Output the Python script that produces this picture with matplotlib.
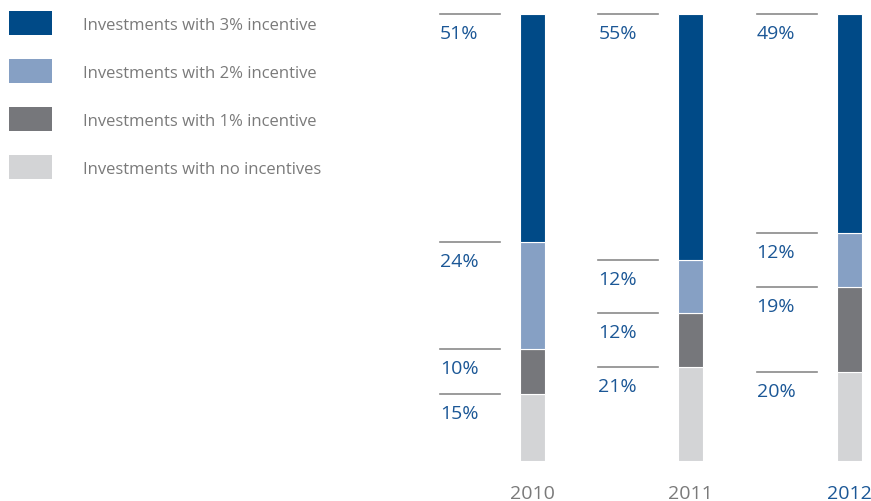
import numpy as np
import matplotlib.pyplot as plt
from matplotlib.patches import Rectangle

plt.rcParams['font.family'] = ['Open Sans', 'DejaVu Sans']

# Данные
years = ['2010', '2011', '2012']
no_incentive = [15, 21, 20]
incentive_1 = [10, 12, 19]
incentive_2 = [24, 12, 12]
incentive_3 = [51, 55, 49]

series = [no_incentive, incentive_1, incentive_2, incentive_3]
colors = ['#d3d4d6', '#76777b', '#86a0c4', '#004a87']
labels = ['Investments with no incentives', 'Investments with 1% incentive',
          'Investments with 2% incentive', 'Investments with 3% incentive']

label_blue = '#1b5796'
line_gray = '#8a8a8a'
text_gray = '#7a7a7a'

fig = plt.figure(figsize=(8.71, 5.02), dpi=100)
W, H = 871, 502

# ось в пикселях: от x=420 до 871, столбики с y=15 до y=462
ax = fig.add_axes([420 / W, (H - 462) / H, 451 / W, (462 - 15) / H])
unit = 158.25
px = 100 / (462 - 15)  # один пиксель в единицах оси y
ax.set_xlim(-112.5 / unit, 2 + 22 / unit)
ax.set_ylim(0, 100)
ax.axis('off')

x = np.arange(len(years))
bar_w = 25 / unit
bottom = np.zeros(len(years))
for vals, col in zip(series, colors):
    vals = np.array(vals, dtype=float)
    ax.bar(x, vals, bar_w, bottom=bottom, color=col, edgecolor='white', linewidth=0.8)
    # линии и подписи над каждым сегментом
    for i in range(len(years)):
        top = bottom[i] + vals[i]
        x0 = x[i] - 92.5 / unit
        x1 = x[i] - 32.5 / unit
        ax.plot([x0, x1], [top, top], color=line_gray, linewidth=1.2, clip_on=False)
        ax.text(x0, top - 24 * px, f'{int(vals[i])}%', color=label_blue, fontsize=14,
                ha='left', va='baseline')
    bottom += vals

for i, y in enumerate(years):
    ax.text(x[i], -37 * px, y, fontsize=14, ha='center', va='baseline',
            color=label_blue if i == len(years) - 1 else text_gray)

# Легенда вручную
lax = fig.add_axes([0, 0, 1, 1])
lax.set_xlim(0, W)
lax.set_ylim(H, 0)
lax.axis('off')
for k, (col, lab) in enumerate(zip(colors[::-1], labels[::-1])):
    y0 = 12 + 48 * k
    lax.add_patch(Rectangle((9, y0), 43, 24, facecolor=col, edgecolor='none'))
    lax.text(83, y0 + 18, lab, fontsize=12, color=text_gray, ha='left', va='baseline')

fig.savefig('out.png', dpi=100)
